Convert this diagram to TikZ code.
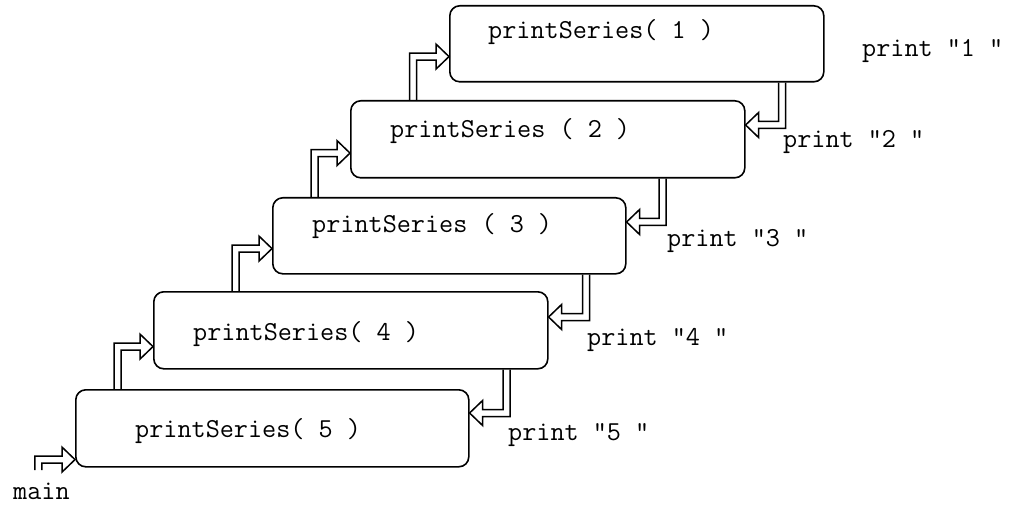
\documentclass[tikz,border=0pt]{standalone}
\usepackage{fontspec}
\usetikzlibrary{calc}
\def\sw{3.5pt}
\def\hw{12.5pt}
\def\hl{13pt}
\tikzset{
  box/.style={draw, line width=1.6pt, rounded corners=10pt, inner sep=0pt, anchor=north west},
  code/.style={inner sep=0pt, anchor=base west, font=\ttfamily\fontsize{27.4}{30}\selectfont},
  hollow/.style={draw, line width=1.5pt, line join=miter}
}
% up arrow: lower node, upper node, shaft x offset from lower west, tip y offset above upper south
\newcommand\callarrow[4]{%
\path[hollow] let \p1=($(#1.north west)+(#3,0)$), \p2=($(#2.south west)+(0,#4)$) in
 (\x1-\sw,\y1) -- (\x1-\sw,\y2+\sw) -- (\x2-\hl,\y2+\sw) -- (\x2-\hl,\y2+\hw) -- (\x2,\y2)
 -- (\x2-\hl,\y2-\hw) -- (\x2-\hl,\y2-\sw) -- (\x1+\sw,\y2-\sw) -- (\x1+\sw,\y1);}
% return arrow: upper node, lower node, shaft x offset from upper east, tip y offset below lower north
\newcommand\retarrow[4]{%
\path[hollow] let \p1=($(#1.south east)+(#3,0)$), \p2=($(#2.north east)+(0,-#4)$) in
 (\x1-\sw,\y1) -- (\x1-\sw,\y2+\sw) -- (\x2+\hl,\y2+\sw) -- (\x2+\hl,\y2+\hw) -- (\x2,\y2)
 -- (\x2+\hl,\y2-\hw) -- (\x2+\hl,\y2-\sw) -- (\x1+\sw,\y2-\sw) -- (\x1+\sw,\y1);}
\begin{document}
\begin{tikzpicture}[x=1pt,y=1pt]
\useasboundingbox[fill=white] (0,0) rectangle (1009,504);
% boxes
\node[box, minimum width=374pt, minimum height=76pt] (b1) at (449,499) {};
\node[box, minimum width=394pt, minimum height=77pt] (b2) at (350,404) {};
\node[box, minimum width=353pt, minimum height=76pt] (b3) at (272,307) {};
\node[box, minimum width=394pt, minimum height=77pt] (b4) at (153,213) {};
\node[box, minimum width=393pt, minimum height=77pt] (b5) at (75,115) {};
% box texts
\node[code] (t1) at (488,465) {printSeries( 1 )};
\node[code] (t2) at (390,366) {printSeries ( 2 )};
\node[code] (t3) at (312,271) {printSeries ( 3 )};
\node[code] (t4) at (193,164) {printSeries( 4 )};
\node[code] (t5) at (135,67) {printSeries( 5 )};
% print labels
\node[code] (p1) at (862,447) {print "1 "};
\node[code] (p2) at (783,356) {print "2 "};
\node[code] (p3) at (667,257) {print "3 "};
\node[code] (p4) at (587,159) {print "4 "};
\node[code] (p5) at (508,64) {print "5 "};
\node[code] (mainlbl) at (13,5) {main};
% main call arrow
\coordinate (mainstart) at (38.3,34);
\path[hollow] let \p1=(mainstart), \p2=($(b5.south west)+(0,8)$) in
 (\x1-\sw,\y1) -- (\x1-\sw,\y2+\sw) -- (\x2-\hl,\y2+\sw) -- (\x2-\hl,\y2+\hw) -- (\x2,\y2)
 -- (\x2-\hl,\y2-\hw) -- (\x2-\hl,\y2-\sw) -- (\x1+\sw,\y2-\sw) -- (\x1+\sw,\y1);
% call arrows
\callarrow{b5}{b4}{42.7}{23}
\callarrow{b4}{b3}{82.5}{26}
\callarrow{b3}{b2}{42.7}{25.5}
\callarrow{b2}{b1}{63}{26}
% return arrows
\retarrow{b1}{b2}{-42.5}{25}
\retarrow{b2}{b3}{-83}{25}
\retarrow{b3}{b4}{-40.5}{26}
\retarrow{b4}{b5}{-42}{24}
\end{tikzpicture}
\end{document}
